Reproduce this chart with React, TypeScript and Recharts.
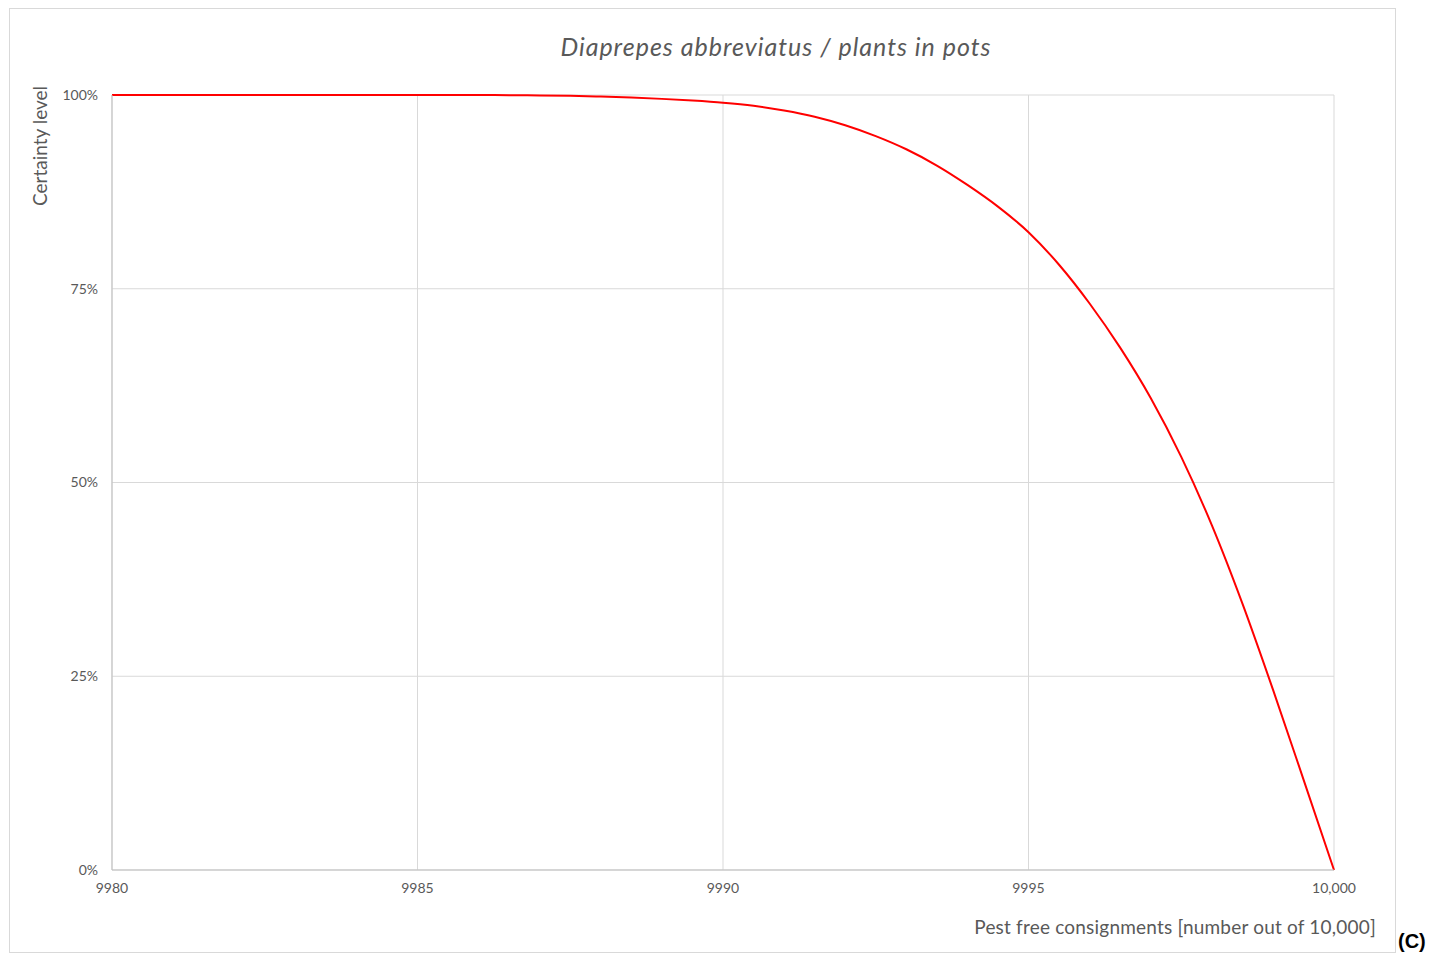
import { LineChart, Line, XAxis, YAxis, CartesianGrid } from "recharts";

// pest free consignments (x) read at half-unit steps
const consignments = [
  9980, 9980.5, 9981, 9981.5, 9982, 9982.5, 9983, 9983.5, 9984, 9984.5, 9985, 9985.5, 9986,
  9986.5, 9987, 9987.5, 9988, 9988.5, 9989, 9989.5, 9990, 9990.5, 9991, 9991.5, 9992, 9992.5,
  9993, 9993.5, 9994, 9994.5, 9995, 9995.5, 9996, 9996.5, 9997, 9997.5, 9998, 9998.5, 9999,
  9999.5, 10000,
];
// certainty level in %
const certainty = [
  100, 100, 100, 100, 100, 100, 100, 100, 100, 100, 100, 100, 99.99,
  99.98, 99.95, 99.9, 99.8, 99.67, 99.5, 99.28, 99.0, 98.6, 98.0, 97.2, 96.1, 94.7,
  93.0, 90.9, 88.4, 85.6, 82.3, 78.1, 73.1, 67.4, 60.9, 53.3, 44.5, 34.4, 23.3,
  11.7, 0,
];
const xTicks = [9980, 9985, 9990, 9995, 10000];
const yTicks = [0, 25, 50, 75, 100];

const data = consignments.map((x, i) => ({ x, y: certainty[i] }));

const font = "Lato, 'Open Sans', sans-serif";
const grey = "#595959";

export default function App() {
  return (
    <div style={{ position: "relative", width: 1427, height: 945, fontFamily: font }}>
      {/* chart frame */}
      <div
        style={{
          position: "absolute",
          left: 1,
          top: 0,
          width: 1387,
          height: 945,
          border: "1px solid #d9d9d9",
          boxSizing: "border-box",
        }}
      />
      <LineChart
        width={1427}
        height={945}
        data={data}
        margin={{ top: 87, right: 101, bottom: 43, left: 44 }}
        style={{ position: "absolute", left: 0, top: 0 }}
      >
        <CartesianGrid stroke="#d9d9d9" strokeWidth={1} />
        <XAxis
          dataKey="x"
          type="number"
          domain={[9980, 10000]}
          ticks={xTicks}
          tickFormatter={(v) => (v >= 10000 ? v.toLocaleString("en-US") : String(v))}
          axisLine={{ stroke: "#bfbfbf" }}
          tickLine={false}
          tickSize={0}
          tickMargin={13}
          tick={{ fontSize: 14, fill: grey, fontFamily: font }}
          height={40}
        />
        <YAxis
          type="number"
          domain={[0, 100]}
          ticks={yTicks}
          tickFormatter={(v) => `${v}%`}
          axisLine={{ stroke: "#bfbfbf" }}
          tickLine={false}
          tickSize={0}
          tickMargin={14}
          tick={{ fontSize: 14, fill: grey, fontFamily: font }}
          width={60}
        />
        <Line
          dataKey="y"
          type="monotone"
          stroke="#ff0000"
          strokeWidth={2}
          dot={false}
          isAnimationActive={false}
        />
      </LineChart>

      <div
        style={{
          position: "absolute",
          left: 0,
          width: 1536,
          top: 23,
          textAlign: "center",
          fontSize: 25,
          letterSpacing: 1,
          fontStyle: "italic",
          color: grey,
          whiteSpace: "nowrap",
        }}
      >
        Diaprepes abbreviatus / plants in pots
      </div>
      <div
        style={{
          position: "absolute",
          left: 32 - 100,
          top: 138 - 12,
          width: 200,
          height: 24,
          transform: "rotate(-90deg)",
          textAlign: "center",
          fontSize: 19,
          color: grey,
          whiteSpace: "nowrap",
        }}
      >
        Certainty level
      </div>
      <div
        style={{
          position: "absolute",
          right: 1427 - 1368,
          top: 907,
          fontSize: 19,
          letterSpacing: 0.2,
          color: grey,
          whiteSpace: "nowrap",
        }}
      >
        Pest free consignments [number out of 10,000]
      </div>
      <div
        style={{
          position: "absolute",
          left: 1390,
          top: 923,
          fontSize: 20,
          lineHeight: "20px",
          fontWeight: "bold",
          fontFamily: "'Liberation Sans', Arial, sans-serif",
          color: "#000",
          whiteSpace: "nowrap",
        }}
      >
        (C)
      </div>
    </div>
  );
}
